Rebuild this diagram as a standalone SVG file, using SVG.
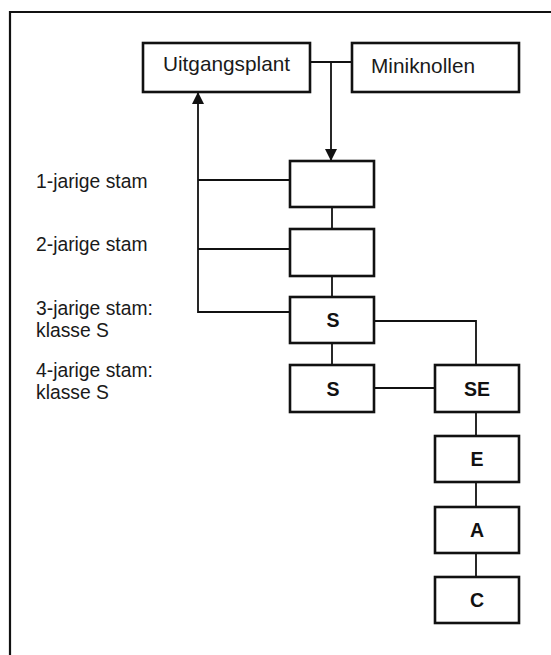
<svg xmlns="http://www.w3.org/2000/svg" width="551" height="655" viewBox="0 0 551 655">
  <style>
    .box { fill: #ffffff; stroke: #111111; stroke-width: 2.6; }
    .lbl { font-family: "Liberation Sans", Arial, sans-serif; font-size: 19.3px; fill: #1a1a1a; }
    .name { font-family: "Liberation Sans", Arial, sans-serif; font-size: 20.8px; fill: #1a1a1a; }
    .cls { font-family: "Liberation Sans", Arial, sans-serif; font-size: 19.5px; font-weight: bold; fill: #111111; text-anchor: middle; }
    .wire { fill: none; stroke: #111111; stroke-width: 1.8; }
    .frame { fill: none; stroke: #111111; stroke-width: 2.2; }
  </style>
  <defs>
    <marker id="arrow" viewBox="0 0 12 12" refX="12" refY="6" markerWidth="12" markerHeight="12" markerUnits="userSpaceOnUse" orient="auto">
      <path d="M0,0 L12,6 L0,12 Z" fill="#111111"/>
    </marker>
  </defs>

  <rect width="551" height="655" fill="#ffffff"/>
  <!-- outer frame, open to the right and bottom edge -->
  <path class="frame" d="M10,655 L10,12 L551,12"/>

  <!-- row labels -->
  <g id="labels">
    <text class="lbl" x="36" y="188">1-jarige stam</text>
    <text class="lbl" x="36" y="251">2-jarige stam</text>
    <text class="lbl" x="36" y="315">3-jarige stam:</text>
    <text class="lbl" x="36" y="337">klasse S</text>
    <text class="lbl" x="36" y="377">4-jarige stam:</text>
    <text class="lbl" x="36" y="399">klasse S</text>
  </g>

  <!-- connectors -->
  <g id="connectors">
    <path class="wire" d="M310,62 L352,62"/>
    <path class="wire" d="M331,62 L331,161" marker-end="url(#arrow)"/>
    <path class="wire" d="M290,312 L198,312 L198,92" marker-end="url(#arrow)"/>
    <path class="wire" d="M198,180 L290,180"/>
    <path class="wire" d="M198,249 L290,249"/>
    <path class="wire" d="M332,207 L332,229"/>
    <path class="wire" d="M332,276 L332,297"/>
    <path class="wire" d="M332,343 L332,365"/>
    <path class="wire" d="M374,321 L476,321 L476,365"/>
    <path class="wire" d="M374,388 L435,388"/>
    <path class="wire" d="M476,412 L476,436"/>
    <path class="wire" d="M476,482 L476,507"/>
    <path class="wire" d="M476,553 L476,577"/>
  </g>

  <!-- nodes -->
  <g id="uitgangsplant">
    <rect class="box" x="143" y="43" width="167" height="49"/>
    <text class="name" x="226.5" y="71" text-anchor="middle">Uitgangsplant</text>
  </g>
  <g id="miniknollen">
    <rect class="box" x="352" y="43" width="167" height="49"/>
    <text class="name" x="371" y="72.5" font-size="22.8px">Miniknollen</text>
  </g>
  <g id="jaar1">
    <rect class="box" x="290" y="161" width="84" height="46"/>
  </g>
  <g id="jaar2">
    <rect class="box" x="290" y="229" width="84" height="47"/>
  </g>
  <g id="jaar3-s">
    <rect class="box" x="290" y="297" width="84" height="46"/>
    <text class="cls" x="333" y="326.5">S</text>
  </g>
  <g id="jaar4-s">
    <rect class="box" x="290" y="365" width="84" height="47"/>
    <text class="cls" x="333" y="395.5">S</text>
  </g>
  <g id="klasse-se">
    <rect class="box" x="435" y="365" width="84" height="47"/>
    <text class="cls" x="477" y="395.5">SE</text>
  </g>
  <g id="klasse-e">
    <rect class="box" x="435" y="436" width="84" height="46"/>
    <text class="cls" x="477" y="465.5">E</text>
  </g>
  <g id="klasse-a">
    <rect class="box" x="435" y="507" width="84" height="46"/>
    <text class="cls" x="477" y="536.5">A</text>
  </g>
  <g id="klasse-c">
    <rect class="box" x="435" y="577" width="84" height="46"/>
    <text class="cls" x="477" y="606.5">C</text>
  </g>
</svg>
